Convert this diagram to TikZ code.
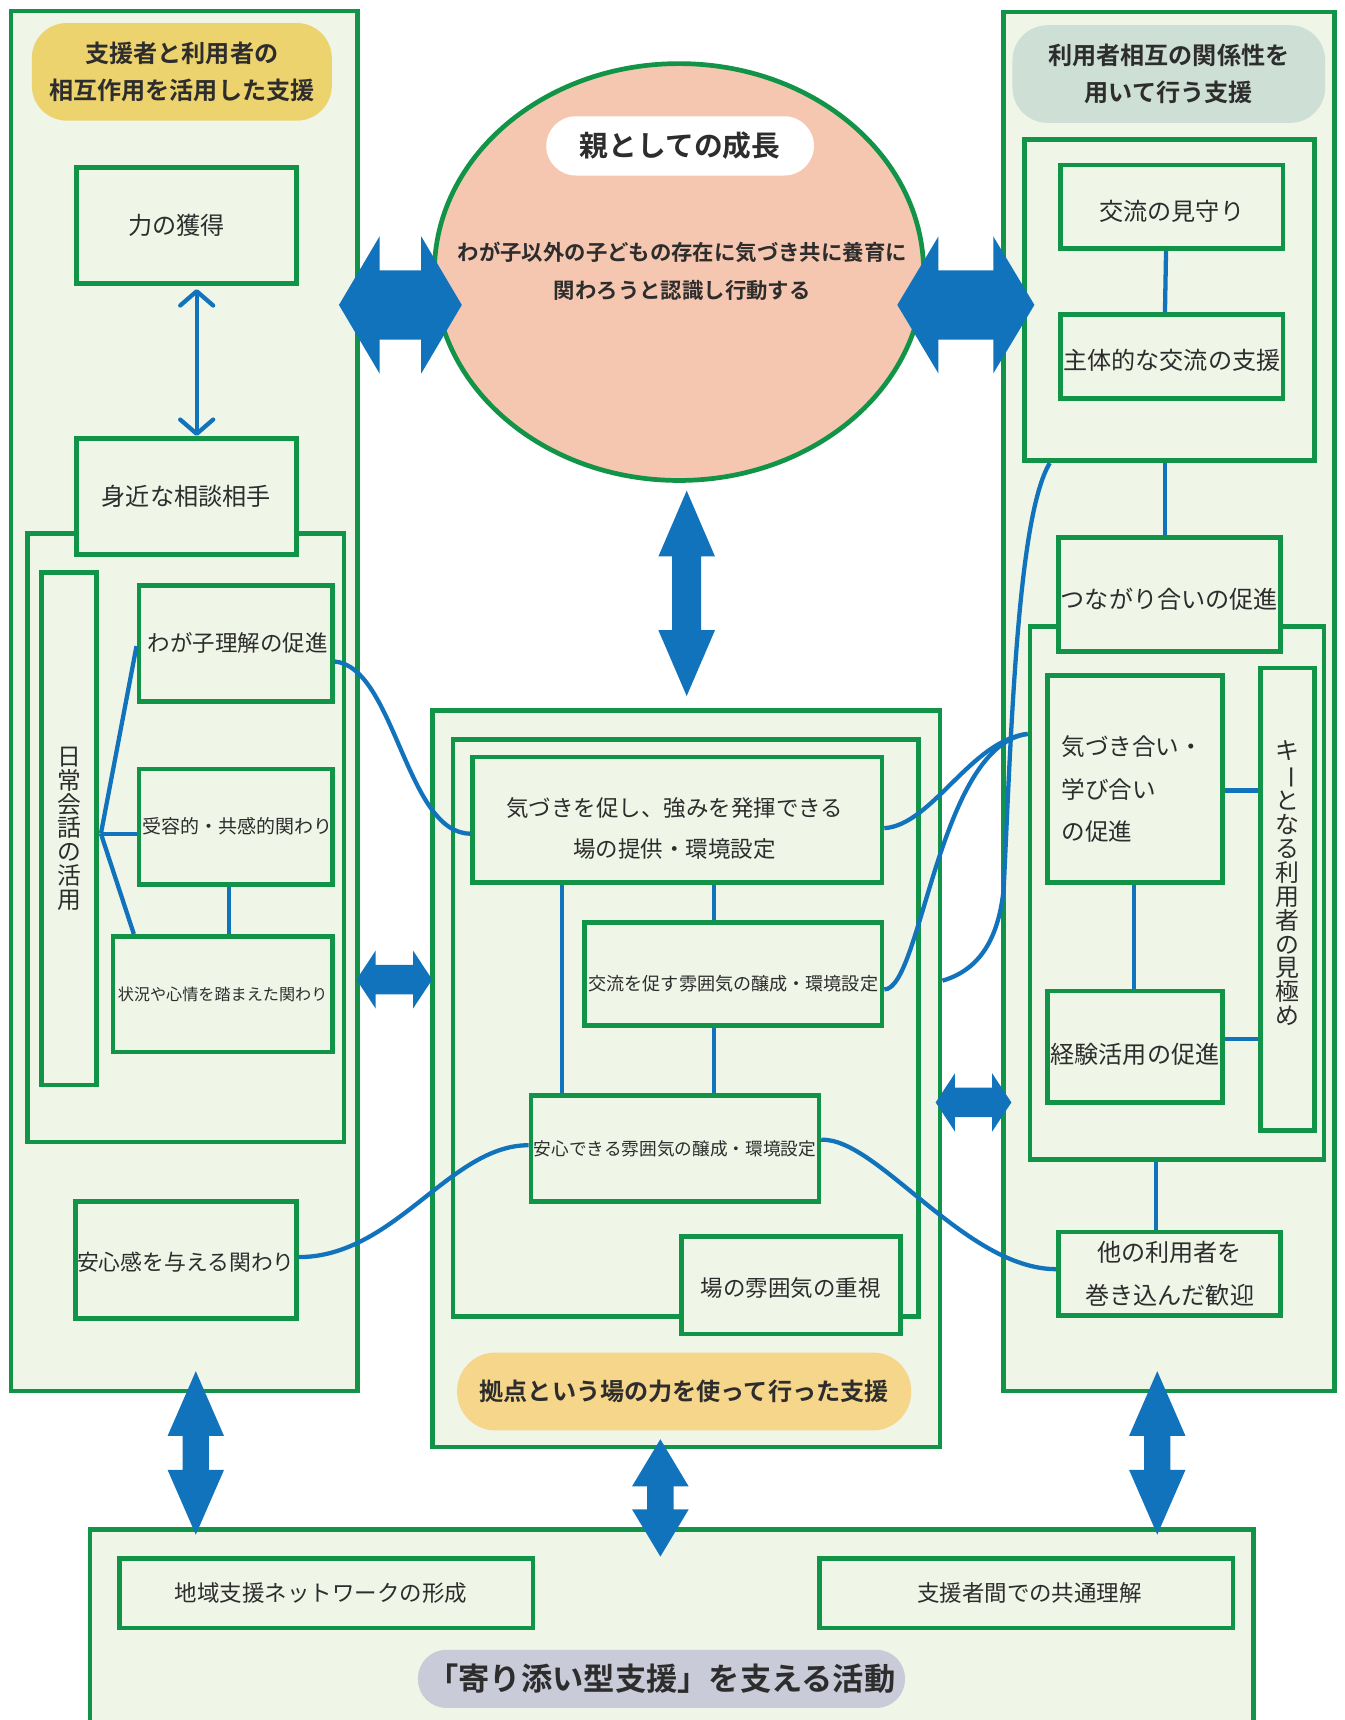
\documentclass[tikz,border=0pt]{standalone}
\usepackage{fontspec}
\usepackage{graphicx}
\setmainfont{Noto Sans CJK JP}[BoldFont={Noto Sans CJK JP Bold}]
\usetikzlibrary{shapes.geometric,arrows.meta}
\definecolor{gr}{RGB}{18,148,72}
\definecolor{bl}{RGB}{17,115,187}
\definecolor{pale}{RGB}{239,245,231}
\definecolor{salmon}{RGB}{246,199,176}
\definecolor{ylw}{RGB}{237,211,110}
\definecolor{ylw2}{RGB}{246,214,139}
\definecolor{mint}{RGB}{206,223,214}
\definecolor{grayp}{RGB}{201,203,216}
\definecolor{txt}{RGB}{45,45,45}
\newcommand{\fs}[2]{\fontsize{#1}{#2}\selectfont}
\newcommand{\hfat}[6]{\fill[bl] (#1,#3) -- (#1+#4,#3-#5) -- (#1+#4,#3-#6) -- (#2-#4,#3-#6) -- (#2-#4,#3-#5) -- (#2,#3) -- (#2-#4,#3+#5) -- (#2-#4,#3+#6) -- (#1+#4,#3+#6) -- (#1+#4,#3+#5) -- cycle;}
\newcommand{\vfat}[6]{\fill[bl] (#1,#2) -- (#1+#5,#2+#4) -- (#1+#6,#2+#4) -- (#1+#6,#3-#4) -- (#1+#5,#3-#4) -- (#1,#3) -- (#1-#5,#3-#4) -- (#1-#6,#3-#4) -- (#1-#6,#2+#4) -- (#1-#5,#2+#4) -- cycle;}
\tikzset{
  bx/.style={draw=gr, fill=pale, line width=4.3pt, inner sep=0pt, text=txt, align=center},
  pill/.style={rounded corners=#1, inner sep=0pt, text=txt, align=center},
  lbl/.style={inner sep=0pt, text=txt, align=center},
  conn/.style={draw=bl, line width=3.9pt},
  barb/.style={{Straight Barb[length=13pt,width=30pt,round]}-{Straight Barb[length=13pt,width=30pt,round]}}
}
\begin{document}
\begin{tikzpicture}[x=1pt,y=-1pt]
\useasboundingbox (0,0) rectangle (1226,1568);
\clip (0,0) rectangle (1226,1568);
\fill[white] (0,0) rectangle (1226,1568);

% ---------- left panel ----------
\node[bx, minimum width=316pt, minimum height=1258pt] (lpanel) at (168,639) {};
\node[pill=32pt, fill=ylw, minimum width=273.5pt, minimum height=89pt, font=\bfseries\fs{22}{33}] (lhead) at (165.75,65.5) {支援者と利用者の\\相互作用を活用した支援};
\node[bx, minimum width=200.5pt, minimum height=106pt, font=\fs{22}{26}] (chikara) at (169.8,205.4) {力の獲得\hspace*{18pt}};
\node[bx, minimum width=288.5pt, minimum height=554.6pt] (inL) at (169.25,763.7) {};
\node[bx, minimum width=200.5pt, minimum height=106pt, font=\fs{22}{26}] (mijika) at (169.8,452.6) {身近な相談相手};
\node[bx, minimum width=50pt, minimum height=467pt, font=\fs{21.7}{21.7}] (nichijo) at (63,755.5) {日\\常\\会\\話\\の\\活\\用};
\node[bx, minimum width=176.2pt, minimum height=105.9pt, font=\fs{20.5}{24}] (wagako) at (214.7,586.55) {\hspace*{4pt}わが子理解の促進};
\node[bx, minimum width=176.2pt, minimum height=105pt, font=\fs{17.3}{20}] (juyo) at (214.7,753.5) {\hspace*{3pt}受容的・共感的関わり};
\node[bx, minimum width=199.8pt, minimum height=105.4pt, font=\fs{14.7}{18}] (jokyo) at (202.9,906.3) {状況や心情を踏まえた関わり};
\node[bx, minimum width=201pt, minimum height=107pt, font=\fs{19.9}{24}, text height=21.5pt, text depth=2.5pt] (anshinkan) at (169.5,1148.5) {安心感を与える関わり};

% ---------- circle ----------
\node[ellipse, draw=gr, fill=salmon, line width=4.3pt, minimum width=446pt, minimum height=380pt, inner sep=0pt] (oya) at (619,248) {};
\node[lbl, font=\bfseries\fs{19.5}{35}] (oyatext) at (622,247.5) {わが子以外の子どもの存在に気づき共に養育に\\関わろうと認識し行動する};
\node[pill=27pt, fill=white, minimum width=244pt, minimum height=54pt, font=\bfseries\fs{26.2}{30}] (oyat) at (620,133) {親としての成長};

% ---------- right panel ----------
\node[bx, minimum width=301.5pt, minimum height=1257pt] (rpanel) at (1065.75,639.5) {};
\node[pill=32pt, fill=mint, minimum width=285pt, minimum height=89pt, font=\bfseries\fs{22}{34}] (rhead) at (1065.5,67.5) {利用者相互の関係性を\\用いて行う支援};
\node[bx, minimum width=264pt, minimum height=293pt] (inR1) at (1066,273.5) {};
\node[bx, minimum width=202.5pt, minimum height=76.2pt, font=\fs{22}{26}, text height=27.4pt, text depth=2.6pt] (mimamori) at (1068.25,188.4) {交流の見守り};
\node[bx, minimum width=202.5pt, minimum height=76.6pt, font=\fs{22}{26}, text height=25.4pt, text depth=2.6pt] (shutai) at (1068.25,325.3) {主体的な交流の支援};
\node[bx, minimum width=268pt, minimum height=486pt] (inR2) at (1073,814) {};
\node[bx, minimum width=202pt, minimum height=104pt, font=\fs{22}{26}, text height=27.4pt, text depth=2.6pt] (tsunagari) at (1066,542) {つながり合いの促進};
\node[bx, minimum width=160.1pt, minimum height=188.5pt] (kizukiai) at (1034.65,710.25) {};
\node[lbl, anchor=west, align=left, font=\fs{21.5}{38.5}] (kizukiait) at (967.5,719.5) {気づき合い・\\学び合い\\の促進};
\node[bx, minimum width=49.5pt, minimum height=421.5pt] (key) at (1173.75,819.75) {};
\node[lbl, font=\fs{21.8}{21.8}] (keyt) at (1174,805) {キ\\\rotatebox[origin=c]{-90}{ー}\\と\\な\\る\\利\\用\\者\\の\\見\\極\\め};
\node[bx, minimum width=160.1pt, minimum height=101.5pt, font=\fs{22}{26}, text height=32.4pt, text depth=2.6pt] (keiken) at (1034.65,954.25) {経験活用の促進};
\node[bx, minimum width=202.6pt, minimum height=76pt, font=\fs{22}{39}] (hoka) at (1066.3,1161) {他の利用者を\\巻き込んだ歓迎};

% ---------- center panel ----------
\node[bx, minimum width=463pt, minimum height=671pt] (cpanel) at (625.5,983.5) {};
\node[bx, minimum width=424pt, minimum height=525.6pt] (inC) at (625,937.2) {};
\node[bx, minimum width=373pt, minimum height=114.7pt] (kizuki) at (617.5,747.35) {};
\node[lbl, font=\fs{20.5}{37}] (kizukit) at (615,755) {気づきを促し、強みを発揮できる\\場の提供・環境設定};
\node[bx, minimum width=271pt, minimum height=94.3pt, font=\fs{16.5}{20}, text height=33pt, text depth=3pt] (koryu) at (668.5,887.85) {交流を促す雰囲気の醸成・環境設定};
\node[bx, minimum width=262.5pt, minimum height=96.5pt, font=\fs{16.1}{20}] (anshin) at (615.25,1047.25) {安心できる雰囲気の醸成・環境設定};
\node[bx, minimum width=200pt, minimum height=89pt, font=\fs{20.5}{24}, text height=24pt, text depth=2.5pt] (ba) at (721,1171.5) {場の雰囲気の重視};
\node[pill=35pt, fill=ylw2, minimum width=414pt, minimum height=71pt, font=\bfseries\fs{22}{26}] (cpill) at (623.7,1268.5) {拠点という場の力を使って行った支援};

% ---------- bottom panel ----------
\node[bx, minimum width=1061pt, minimum height=246pt] (bpanel) at (612.5,1517) {};
\node[bx, minimum width=377pt, minimum height=63pt, font=\fs{20.5}{24}] (chiiki) at (297.5,1452.5) {地域支援ネットワークの形成\hspace*{10pt}};
\node[bx, minimum width=377pt, minimum height=63pt, font=\fs{20.5}{24}] (shienkan) at (935.5,1452.5) {\hspace*{6pt}支援者間での共通理解};
\node[pill=26pt, fill=grayp, minimum width=444pt, minimum height=53pt, font=\bfseries\fs{28.5}{32}] (bpill) at (603,1530.5) {「寄り添い型支援」を支える活動};

% ---------- connectors ----------
\coordinate (hub) at (92,760);
\draw[conn] (hub) -- (wagako.west |- 0,589);
\draw[conn] (hub) -- (juyo.west |- 0,760);
\draw[conn] (hub) -- (jokyo.north -| 122,0);
\draw[conn] (juyo.south -| 209,0) -- (jokyo.north -| 209,0);
\draw[conn, barb] ([xshift=9.5pt,yshift=-3pt]chikara.south) -- ([xshift=9.5pt]mijika.north);

\draw[conn] (kizuki.south -| 512,0) -- (anshin.north -| 512,0);
\draw[conn] (kizuki.south -| 651,0) -- (koryu.north -| 651,0);
\draw[conn] (koryu.south -| 651,0) -- (anshin.north -| 651,0);

\draw[conn] (mimamori.south -| 1063,0) -- (shutai.north -| 1062,0);
\draw[conn] (inR1.south -| 1062,0) -- (tsunagari.north -| 1062,0);
\draw[conn] (kizukiai.east |- 0,720.6) -- (key.west |- 0,720.6);
\draw[conn] (keiken.east |- 0,947) -- (key.west |- 0,947);
\draw[conn] (kizukiai.south -| 1033.7,0) -- (keiken.north -| 1033.7,0);
\draw[conn] (inR2.south -| 1053.5,0) -- (hoka.north -| 1053.5,0);

\draw[conn] (wagako.east |- 0,603) .. controls (360,608) and (370,760) .. (kizuki.west |- 0,760);
\draw[conn] (kizuki.east |- 0,755) .. controls (850,752) and (885,675) .. (inR2.west |- 0,669);
\draw[conn] (koryu.east |- 0,902) .. controls (840,902) and (855,680) .. (inR2.west |- 0,669);
\draw[conn] (cpanel.east |- 0,894) .. controls (890,885) and (910,860) .. (915,810) .. controls (922,660) and (928,470) .. (inR1.south -| 957,0);
\draw[conn] (anshinkan.east |- 0,1146) .. controls (360,1146) and (410,1044) .. (anshin.west |- 0,1044);
\draw[conn] (anshin.east |- 0,1039) .. controls (800,1037) and (880,1157) .. (hoka.west |- 0,1157);

% ---------- fat arrows ----------
\hfat{309}{421}{278}{37}{62.5}{31.5}
\hfat{818}{943}{278}{37.5}{62.5}{31.5}
\hfat{325}{394}{893}{17.5}{26.5}{13.5}
\hfat{853}{922}{1005}{17.5}{26.5}{13.5}
\vfat{626}{447.3}{634.5}{60}{25.8}{13.2}
\vfat{178.5}{1250}{1399}{59}{25.7}{12}
\vfat{602}{1312}{1419}{43}{25.8}{12}
\vfat{1055}{1250}{1399}{59}{25.7}{12}
\end{tikzpicture}
\end{document}
